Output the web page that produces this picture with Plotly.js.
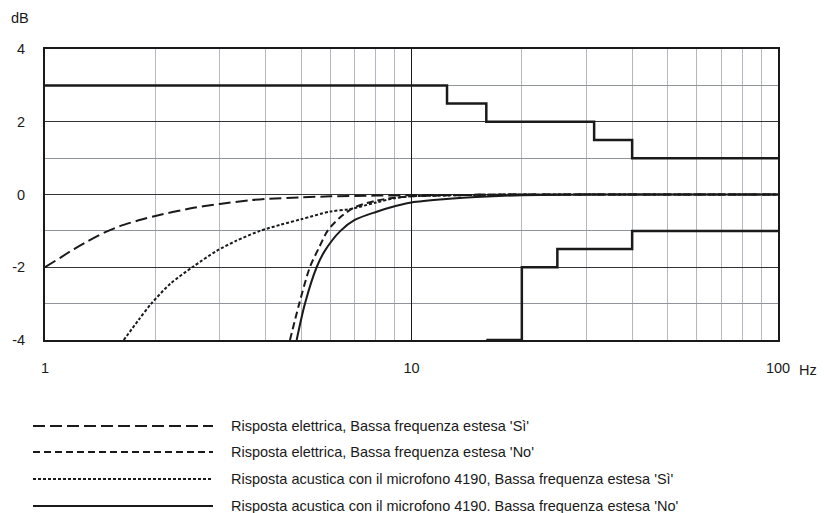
<!DOCTYPE html>
<html>
<head>
<meta charset="utf-8">
<script src="https://cdn.plot.ly/plotly-3.0.1.min.js"></script>
<style>html,body{margin:0;padding:0;background:#fff;}#chart{width:827px;height:513px;}</style>
</head>
<body>
<div id="chart"></div>
<script>
// ---- data ----
const seriesNames = [
  "Risposta elettrica, Bassa frequenza estesa 'Sì'",
  "Risposta elettrica, Bassa frequenza estesa 'No'",
  "Risposta acustica con il microfono 4190, Bassa frequenza estesa 'Sì'",
  "Risposta acustica con il microfono 4190. Bassa frequenza estesa 'No'"
];
const elecSiFreq = [1, 1.1, 1.2, 1.3, 1.45, 1.6, 1.8, 2, 2.5, 3, 3.6, 4, 5, 6, 8, 10, 15, 20, 30, 50, 100];
const elecSiDb   = [-2, -1.74, -1.5, -1.3, -1.05, -0.87, -0.71, -0.59, -0.38, -0.26, -0.16, -0.12, -0.08, -0.05, -0.03, -0.02, -0.01, 0, 0, 0, 0];
const elecNoFreq = [4.66, 4.94, 5.28, 5.6, 5.9, 6.38, 7, 8, 9, 10, 12, 15, 20, 30, 50, 100];
const elecNoDb   = [-4, -3, -2, -1.45, -1.0, -0.63, -0.35, -0.17, -0.09, -0.05, -0.03, -0.01, 0, 0, 0, 0];
const acuSiFreq  = [1.64, 1.8, 1.95, 2.2, 2.54, 2.94, 3.33, 3.86, 4.4, 5, 6, 6.8, 8, 9, 10, 12, 15, 20, 30, 50, 100];
const acuSiDb    = [-4, -3.45, -3, -2.45, -1.98, -1.55, -1.27, -1.0, -0.83, -0.68, -0.47, -0.4, -0.22, -0.1, -0.05, -0.03, -0.01, 0, 0, 0, 0];
const acuNoFreq  = [4.86, 5.12, 5.51, 5.8, 6.4, 7, 8, 9.1, 10, 12.7, 15, 20, 30, 50, 100];
const acuNoDb    = [-4, -3, -2, -1.55, -1.0, -0.7, -0.48, -0.31, -0.22, -0.12, -0.07, -0.02, 0, 0, 0];
const tolUpFreq  = [1, 12.5, 16, 31.5, 40, 100];
const tolUpDb    = [3, 2.5, 2, 1.5, 1, 1];
const tolLoFreq  = [16, 20, 25, 40, 100];
const tolLoDb    = [-4, -2, -1.5, -1, -1];
const xTickVals  = [1,2,3,4,5,6,7,8,9,10,20,30,40,50,60,70,80,90,100];
const xTickText  = ['1','','','','','','','','','10','','','','','','','','','100'];
const yTickVals  = [-4,-3,-2,-1,0,1,2,3,4];
const yTickText  = ['-4','','-2','','0','','2','','4'];

// ---- styles ----
const dashes = ['12px,5px', '7px,4px', '3px,2px', 'solid'];
const FONT = 'Liberation Sans, Arial, sans-serif';
const curveX = [elecSiFreq, elecNoFreq, acuSiFreq, acuNoFreq];
const curveY = [elecSiDb, elecNoDb, acuSiDb, acuNoDb];

const traces = curveX.map((xs, i) => ({
  x: xs, y: curveY[i], type: 'scatter', mode: 'lines', name: seriesNames[i],
  line: {color: '#1a1a1a', width: 2, dash: dashes[i], shape: 'spline', smoothing: 0.8},
  hoverinfo: 'skip'
}));
traces.push({x: tolUpFreq, y: tolUpDb, type: 'scatter', mode: 'lines', line: {color: '#1a1a1a', width: 2.5, shape: 'hv'}, hoverinfo: 'skip'});
traces.push({x: tolLoFreq, y: tolLoDb, type: 'scatter', mode: 'lines', line: {color: '#1a1a1a', width: 2.5, shape: 'hv'}, hoverinfo: 'skip'});
// helper trace for major grid axes
traces.push({x: [1, 100], y: [0, 0], xaxis: 'x2', yaxis: 'y2', mode: 'lines', line: {width: 0}, opacity: 0, hoverinfo: 'skip'});

const shapes = [];
const annotations = [];
const rowY = [426, 452, 479, 506];
const plotL = 45, plotR = 778, plotT = 49, plotB = 340;
const pw = plotR - plotL, ph = plotB - plotT;
const px = X => (X - plotL) / pw;
const py = Y => (plotB - Y) / ph;
seriesNames.forEach((n, i) => {
  shapes.push({type: 'line', xref: 'paper', yref: 'paper', x0: px(33), x1: px(213), y0: py(rowY[i]), y1: py(rowY[i]),
    line: {color: '#1a1a1a', width: 2, dash: dashes[i]}});
  annotations.push({xref: 'paper', yref: 'paper', x: px(229), y: py(rowY[i]), xanchor: 'left', yanchor: 'middle',
    text: n, showarrow: false, font: {family: FONT, size: 14.5, color: '#1a1a1a'}});
});
annotations.push({xref: 'paper', yref: 'paper', x: px(808), y: py(370), xanchor: 'center', yanchor: 'middle', text: 'Hz', showarrow: false, font: {family: FONT, size: 14.5, color: '#1a1a1a'}});
annotations.push({xref: 'paper', yref: 'paper', x: px(20), y: py(18), xanchor: 'center', yanchor: 'middle', text: 'dB', showarrow: false, font: {family: FONT, size: 14.5, color: '#1a1a1a'}});

const layout = {
  width: 827, height: 513,
  margin: {l: plotL, r: 827 - plotR, t: plotT, b: 513 - plotB},
  paper_bgcolor: '#fff', plot_bgcolor: '#fff',
  showlegend: false,
  font: {family: FONT, size: 14.5, color: '#1a1a1a'},
  xaxis: {type: 'log', range: [0, 2], tickvals: xTickVals, ticktext: xTickText, showgrid: true, gridcolor: '#b3b9c0', gridwidth: 1,
    showline: true, mirror: true, linecolor: '#1a1a1a', linewidth: 2, ticks: 'outside', ticklen: 14, tickcolor: 'rgba(0,0,0,0)', zeroline: false,
    tickfont: {family: FONT, size: 14.5, color: '#1a1a1a'}},
  yaxis: {range: [-4, 4], tickvals: yTickVals, ticktext: yTickText, showgrid: true, gridcolor: '#8e949a', gridwidth: 1,
    showline: true, mirror: true, linecolor: '#1a1a1a', linewidth: 2, ticks: 'outside', ticklen: 15, tickcolor: 'rgba(0,0,0,0)', zeroline: false,
    tickfont: {family: FONT, size: 14.5, color: '#1a1a1a'}},
  xaxis2: {type: 'log', range: [0, 2], overlaying: 'x', tickvals: [10], showticklabels: false, showgrid: true, gridcolor: '#1a1a1a', gridwidth: 1, zeroline: false, ticks: ''},
  yaxis2: {range: [-4, 4], overlaying: 'y', tickvals: [-2, 0, 2], showticklabels: false, showgrid: true, gridcolor: '#333', gridwidth: 1, zeroline: false, ticks: ''},
  shapes: shapes,
  annotations: annotations
};
Plotly.newPlot('chart', traces, layout, {staticPlot: true, displayModeBar: false});
</script>
</body>
</html>
